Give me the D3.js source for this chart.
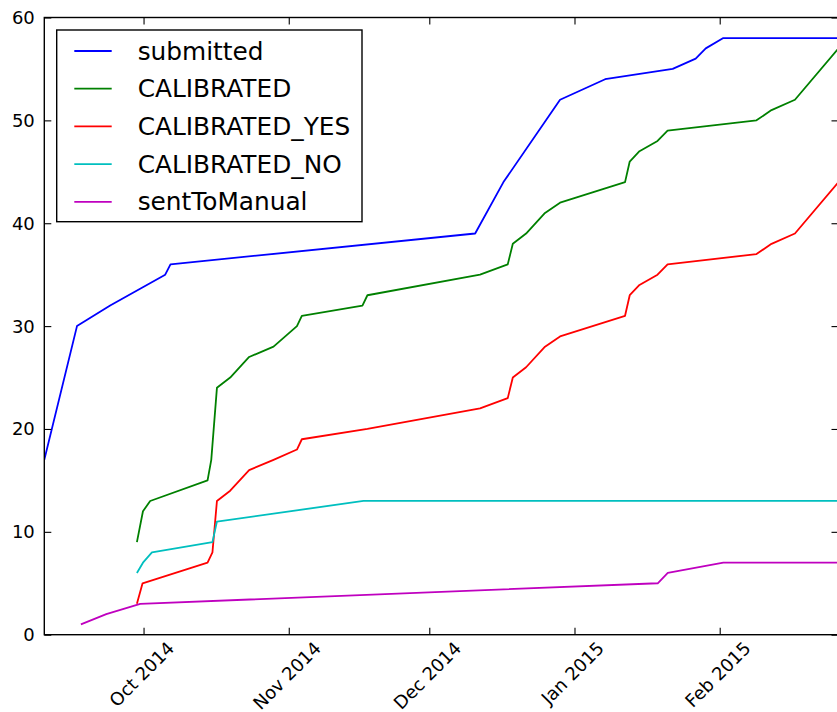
<!DOCTYPE html>
<html>
<head>
<meta charset="utf-8">
<script src="https://cdn.jsdelivr.net/npm/d3@7"></script>
<style>
  html, body { margin: 0; padding: 0; background: #fff; }
  svg { display: block; font-family: "DejaVu Sans", sans-serif; }
</style>
</head>
<body>
<svg id="chart" width="837" height="712"></svg>
<script>
// ---------------- data ----------------
const seriesNames = ["submitted", "CALIBRATED", "CALIBRATED_YES", "CALIBRATED_NO", "sentToManual"];

const submittedDates = ["2014-09-09T19:30","2014-09-16T19:00","2014-09-23T21:00","2014-10-05T15:00","2014-10-06T18:00",
  "2014-12-10T19:00","2014-12-16T20:00","2014-12-28T22:00","2015-01-07T13:00","2015-01-21T23:00",
  "2015-01-26T21:00","2015-01-29T00:30","2015-02-01T18:30","2015-02-26T08:40"];
const submittedValues = [17,30,32,35,36,39,44,52,54,55,56,57,58,58];

const calibratedDates = ["2014-09-29T14:00","2014-09-30T21:00","2014-10-02T10:00","2014-10-14T16:00","2014-10-15T11:00",
  "2014-10-16T16:00","2014-10-19T12:00","2014-10-23T13:00","2014-10-28T18:00","2014-11-02T18:00","2014-11-03T19:00",
  "2014-11-16T17:30","2014-11-17T19:00","2014-12-11T20:00","2014-12-17T18:00","2014-12-18T20:00","2014-12-21T16:00",
  "2014-12-25T17:00","2014-12-28T22:00","2015-01-11T19:00","2015-01-12T19:00","2015-01-14T21:00","2015-01-18T17:30",
  "2015-01-20T21:00","2015-02-08T20:30","2015-02-12T01:30","2015-02-17T01:30","2015-02-26T08:40"];
const calibratedValues = [9,12,13,15,17,24,25,27,28,30,31,32,33,35,36,38,39,41,42,44,46,47,48,49,50,51,52,57];

const calibratedYesDates = ["2014-09-29T14:00","2014-09-30T19:00","2014-10-14T16:00","2014-10-15T17:00","2014-10-16T16:00",
  "2014-10-19T12:00","2014-10-23T13:00","2014-10-28T18:00","2014-11-02T18:00","2014-11-03T19:00","2014-11-17T19:00",
  "2014-12-11T20:00","2014-12-17T18:00","2014-12-18T20:00","2014-12-21T16:00","2014-12-25T17:00","2014-12-28T22:00",
  "2015-01-11T19:00","2015-01-12T19:00","2015-01-14T21:00","2015-01-18T17:30","2015-01-20T21:00","2015-02-08T20:30",
  "2015-02-12T01:30","2015-02-17T01:30","2015-02-26T08:40"];
const calibratedYesValues = [3,5,7,8,13,14,16,17,18,19,20,22,23,25,26,28,29,31,33,34,35,36,37,38,39,44];

const calibratedNoDates = ["2014-09-29T14:00","2014-09-30T21:00","2014-10-02T19:00","2014-10-15T17:00","2014-10-16T16:00",
  "2014-11-16T23:00","2015-02-26T08:40"];
const calibratedNoValues = [6,7,8,9,11,13,13];

const sentToManualDates = ["2014-09-17T15:00","2014-09-23T01:00","2014-09-30T07:00","2015-01-18T18:30","2015-01-20T22:00",
  "2015-02-01T18:30","2015-02-26T08:40"];
const sentToManualValues = [1,2,3,5,6,7,7];

const yTicks = [0,10,20,30,40,50,60];
const xTickDates = ["2014-10-01T00:00","2014-11-01T00:00","2014-12-01T00:00","2015-01-01T00:00","2015-02-01T00:00"];
const xTickLabels = ["Oct 2014","Nov 2014","Dec 2014","Jan 2015","Feb 2015"];
const colors = ["#0000ff","#008000","#ff0000","#00bfbf","#bf00bf"];

// ---------------- build ----------------
const parse = d3.timeParse("%Y-%m-%dT%H:%M");
const series = [
  [submittedDates, submittedValues],
  [calibratedDates, calibratedValues],
  [calibratedYesDates, calibratedYesValues],
  [calibratedNoDates, calibratedNoValues],
  [sentToManualDates, sentToManualValues]
].map(([ds, vs], i) => ({ name: seriesNames[i], color: colors[i],
  pts: ds.map((d, j) => ({ date: parse(d), v: vs[j] })) }));

const L = 44.3, R = 838.5, T = 17.5, B = 634.7;
const svg = d3.select("#chart");

const x = d3.scaleTime()
  .domain([parse("2014-09-09T19:30"), parse("2015-02-26T08:40")])
  .range([L, R]);
const y = d3.scaleLinear().domain([0, 60]).range([B, T]);

// lines
const line = d3.line().x(d => x(d.date)).y(d => y(d.v));
svg.append("defs").append("clipPath").attr("id", "clip")
  .append("rect").attr("x", L).attr("y", T).attr("width", R - L).attr("height", B - T);
const g = svg.append("g").attr("clip-path", "url(#clip)");
series.forEach(s => {
  g.append("path").datum(s.pts)
    .attr("d", line)
    .attr("fill", "none")
    .attr("stroke", s.color)
    .attr("stroke-width", 1.8)
    .attr("stroke-linejoin", "round");
});

// axes (ticks inward on all four sides)
const tickLen = 7;
const xTicks = xTickDates.map(parse);
const axBottom = d3.axisBottom(x).tickValues(xTicks).tickSizeInner(-tickLen).tickSizeOuter(0).tickFormat("");
const axTop = d3.axisTop(x).tickValues(xTicks).tickSizeInner(-tickLen).tickSizeOuter(0).tickFormat("");
const axLeft = d3.axisLeft(y).tickValues(yTicks).tickSizeInner(-tickLen).tickSizeOuter(0).tickFormat("");
const axRight = d3.axisRight(y).tickValues(yTicks).tickSizeInner(-tickLen).tickSizeOuter(0).tickFormat("");

function styleAxis(sel) {
  sel.select(".domain").remove();
  sel.selectAll(".tick line").attr("stroke", "#000").attr("stroke-width", 1.1);
}
svg.append("g").attr("transform", `translate(0,${B})`).call(axBottom).call(styleAxis);
svg.append("g").attr("transform", `translate(0,${T})`).call(axTop).call(styleAxis);
svg.append("g").attr("transform", `translate(${L},0)`).call(axLeft).call(styleAxis);
svg.append("g").attr("transform", `translate(${R},0)`).call(axRight).call(styleAxis);

// frame
svg.append("rect").attr("x", L).attr("y", T).attr("width", R - L).attr("height", B - T)
  .attr("fill", "none").attr("stroke", "#000").attr("stroke-width", 1.4);

// y tick labels
svg.append("g").selectAll("text").data(yTicks).join("text")
  .attr("x", L - 9.5).attr("y", d => y(d))
  .attr("text-anchor", "end").attr("dominant-baseline", "central")
  .attr("font-size", 18).attr("fill", "#000")
  .text(d => d);

// x tick labels rotated 45 degrees, bbox centered on tick
const fs = 18;
svg.append("g").selectAll("text").data(xTicks).join("text")
  .attr("text-anchor", "middle").attr("dominant-baseline", "central")
  .attr("font-size", fs).attr("fill", "#000")
  .text((d, i) => xTickLabels[i])
  .each(function(d) {
    const w = this.getComputedTextLength();
    const h = fs * 1.17;
    const cx = x(d) - 2;
    const cy = 637.4 + (w + h) / (2 * Math.SQRT2);
    d3.select(this).attr("transform", `translate(${cx},${cy}) rotate(-45)`);
  });

// legend
const lg = svg.append("g");
lg.append("rect").attr("x", 56.7).attr("y", 30).attr("width", 362 - 56.7).attr("height", 221.7 - 30)
  .attr("fill", "#fff").attr("stroke", "#000").attr("stroke-width", 1.4);
series.forEach((s, i) => {
  const yy = 51 + i * 37.7;
  lg.append("line").attr("x1", 74.3).attr("x2", 111.7).attr("y1", yy).attr("y2", yy)
    .attr("stroke", s.color).attr("stroke-width", 1.8);
  lg.append("text").attr("x", 137.7).attr("y", yy)
    .attr("dominant-baseline", "central").attr("font-size", 24.8).attr("fill", "#000")
    .text(s.name);
});
</script>
</body>
</html>
